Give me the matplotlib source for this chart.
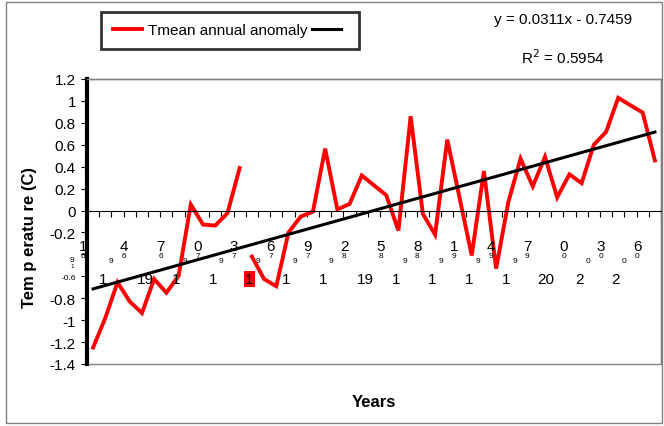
import numpy as np
import matplotlib.pyplot as plt
from matplotlib.patches import Rectangle
import matplotlib.transforms as mtransforms

plt.rcParams['font.family'] = ['Liberation Sans', 'DejaVu Sans']

# data
years = np.arange(1961, 2008)
anomaly = [-1.25, -0.98, -0.655, -0.83, -0.935, -0.625, -0.75, -0.595, 0.055, -0.128,
           -0.137, -0.024, 0.388, -0.42, -0.625, -0.69, -0.2, -0.055, -0.01, 0.565,
           0.01, 0.06, 0.32, 0.23, 0.14, -0.183, 0.86, -0.03, -0.22, 0.647,
           0.12, -0.41, 0.36, -0.53, 0.077, 0.473, 0.22, 0.49, 0.12, 0.33,
           0.25, 0.6, 0.717, 1.028, 0.96, 0.894, 0.457]
slope = 0.0311
intercept = -0.7459
r_squared = 0.5954
gap_after = 13  # line is broken between 1973 and 1974 in the original

ytick_values = [1.2, 1, 0.8, 0.6, 0.4, 0.2, 0, -0.2, -0.4, -0.6, -0.8, -1, -1.2, -1.4]
ytick_labels = ['1.2', '1', '0.8', '0.6', '0.4', '0.2', '0', '-0.2', '', '-0.6', '-0.8', '-1', '-1.2', '-1.4']
label_years = years[::3]

x = np.arange(1, len(years) + 1)
trend = slope * x + intercept

fig = plt.figure(figsize=(6.64, 4.27), dpi=100)
ax = fig.add_axes([87 / 664, 1 - 365 / 427, 574 / 664, 285 / 427])

# outer chart border
fig.patches.append(Rectangle((6 / 664, 3 / 427), 656 / 664, 421 / 427, transform=fig.transFigure,
                             fill=False, ec='#808080', lw=1))

red_line, = ax.plot(x[:gap_after], anomaly[:gap_after], color='red', lw=2.8, solid_joinstyle='miter')
ax.plot(x[gap_after:], anomaly[gap_after:], color='red', lw=2.8, solid_joinstyle='miter')
trend_line, = ax.plot(x, trend, color='black', lw=2.2)

ax.set_xlim(0.5, len(years) + 0.5)
ax.set_ylim(-1.4, 1.2)

# frame: thick left axis, grey elsewhere, category axis on the zero line
for s in ['top', 'right']:
    ax.spines[s].set_color('#808080')
    ax.spines[s].set_linewidth(1)
ax.spines['left'].set_linewidth(3)
ax.spines['bottom'].set_position(('data', 0))
ax.spines['bottom'].set_color('black')
ax.spines['bottom'].set_linewidth(0.8)
ax.add_patch(Rectangle((0, 0), 1, 1, transform=ax.transAxes, fill=False, ec='#808080', lw=1,
                       clip_on=False, zorder=0))

ax.set_xticks(np.arange(0.5, len(years) + 1))
ax.set_xticklabels([])
ax.tick_params(axis='x', direction='out', length=4, width=0.8, color='black')
ax.set_yticks(ytick_values)
ax.set_yticklabels(ytick_labels, fontsize=11)
ax.tick_params(axis='y', direction='out', length=4, width=0.8, pad=4)
for lbl, v in zip(ax.get_yticklabels(), ytick_values):
    if v == -0.6:
        lbl.set_fontsize(6)

# garbled stacked year labels as they appear in the original
tr = mtransforms.blended_transform_factory(ax.transData, ax.transAxes)
for k, yr in enumerate(label_years):
    i = k * 3 + 1
    s = str(yr)
    xr = i - 0.45 if i > 1 else 0.2
    ax.text(xr, 0.414, s[3], fontsize=11, ha='center', va='center', transform=tr, clip_on=False)
    ax.text(xr, 0.382, s[2], fontsize=6, ha='center', va='center', transform=tr, clip_on=False)
    if i not in (7, 25, 40):
        ax.text(i - 1.5 if i > 1 else -0.75, 0.362 if i > 1 else 0.366, s[1], fontsize=6,
                ha='center', va='center', transform=tr, clip_on=False)
    if i == 46:
        continue
    if i in (4, 22):
        txt, off = '19', 1.3
    elif i == 37:
        txt, off = '20', 1.1
    else:
        txt, off = s[0], 0.8
    ax.text(i + off, 0.298, txt, fontsize=11, ha='center', va='center', transform=tr, clip_on=False,
            bbox=dict(fc='red', ec='none', pad=1) if i == 13 else None)
ax.text(-0.75, 0.344, '1', fontsize=4.5, ha='center', va='center', transform=tr, clip_on=False)

ax.set_ylabel('Tem p eratu re (C)', fontsize=12, fontweight='bold')
ax.yaxis.set_label_coords(-(87 - 37) / 574, (365 - 238) / 285)
ax.set_xlabel('Years', fontsize=12, fontweight='bold')
ax.xaxis.set_label_coords(0.5, -(395 - 365) / 285)

leg = fig.legend([red_line, trend_line], ['Tmean annual anomaly', ''], ncol=2, loc='center',
                 bbox_to_anchor=(230 / 664, 1 - 31.5 / 427), fontsize=11, frameon=True, fancybox=False,
                 edgecolor='black', handlelength=1.9, handletextpad=0.4, columnspacing=0.3,
                 borderpad=0.75)
leg.get_frame().set_linewidth(2)

fig.text(563 / 664, 1 - 20 / 427, f'y = {slope}x - {abs(intercept)}', fontsize=11, ha='center', va='center')
fig.text(563 / 664, 1 - 58 / 427, f'R$^2$ = {r_squared}', fontsize=11, ha='center', va='center')

fig.savefig('out.png', dpi=100)
